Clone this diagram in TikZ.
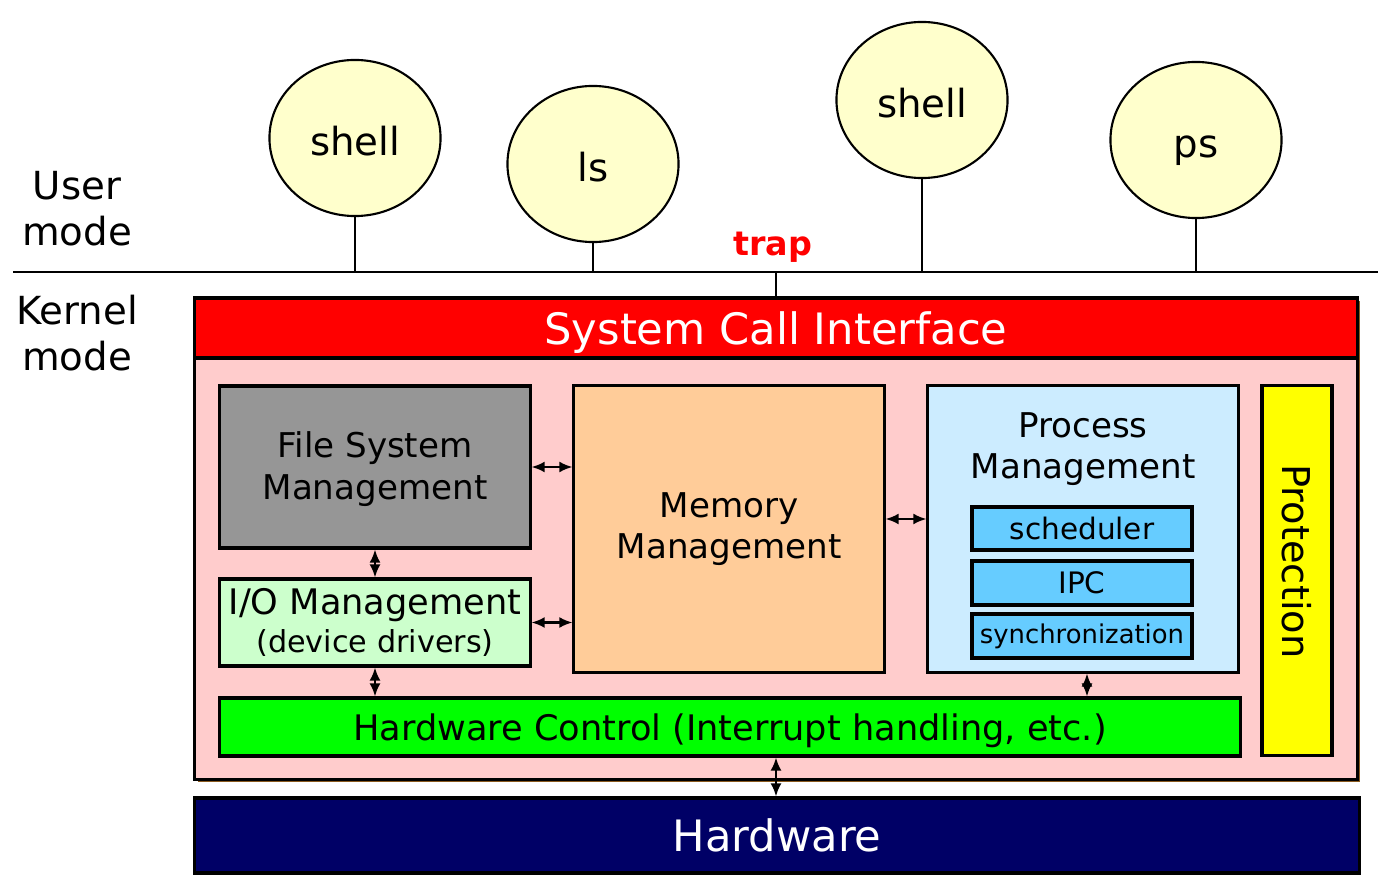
\documentclass[tikz,border=0pt]{standalone}
\usepackage{fontspec}
\setmainfont{DejaVu Sans}
\usepackage{tikz}
\usetikzlibrary{arrows.meta,shapes.geometric,shadows}
\definecolor{kpink}{HTML}{FFCCCC}
\definecolor{fsgray}{HTML}{969696}
\definecolor{iogreen}{HTML}{CCFFCC}
\definecolor{mempeach}{HTML}{FFCC99}
\definecolor{proclight}{HTML}{CCECFF}
\definecolor{subblue}{HTML}{66CCFF}
\definecolor{hwgreen}{HTML}{00FF00}
\definecolor{hwnavy}{HTML}{000066}
\definecolor{procyellow}{HTML}{FFFFCC}
\definecolor{protyellow}{HTML}{FFFF00}
\definecolor{kshadow}{HTML}{8A5A1E}

\begin{document}
\begin{tikzpicture}[x=0.01cm, y=-0.01cm,
    box/.style={draw=black, line width=0.9pt, rectangle, inner sep=0pt, text=black},
    proc/.style={draw=black, line width=0.6pt, ellipse, fill=procyellow, inner sep=0pt,
                 minimum width=1.71cm, minimum height=1.56cm, text height=1.05em, text depth=0.07em,
                 font=\fontsize{11}{13}\selectfont},
    link/.style={draw=black, line width=0.6pt, {Latex[length=1.3mm,width=1.1mm]}-{Latex[length=1.3mm,width=1.1mm]}},
    txt/.style={align=center, inner sep=0pt}]
            \useasboundingbox (0,0) rectangle (1378,888);
            \coordinate (lineL) at (13,272);
            \coordinate (lineR) at (1378,272);
            \draw[black, line width=0.6pt] (lineL) -- (lineR);
            \node[txt, font=\fontsize{11}{13}\selectfont] (user) at (77,209) {User\\mode};
            \node[txt, font=\fontsize{11}{13}\selectfont] (kernel) at (77,333) {Kernel\\mode};
            \node[proc] (shellA) at (355,138) {shell};
            \node[proc] (ls) at (593,164) {ls};
            \node[proc] (shellB) at (922,100) {shell};
            \node[proc] (ps) at (1196,140) {ps};
            \draw[black, line width=0.6pt] (shellA.south) -- (shellA.south |- lineL);
            \draw[black, line width=0.6pt] (ls.south) -- (ls.south |- lineL);
            \draw[black, line width=0.6pt] (shellB.south) -- (shellB.south |- lineL);
            \draw[black, line width=0.6pt] (ps.south) -- (ps.south |- lineL);
            \node[txt, text=red, font=\bfseries\fontsize{9.5}{12}\selectfont] (trap) at (773,247) {trap};
            \node[box, fill=kpink, minimum width=11.62cm, minimum height=4.81cm,
                  drop shadow={shadow xshift=0.03cm, shadow yshift=-0.03cm, fill=kshadow, opacity=1}] (core) at (776,538.5) {};
            \node[box, fill=red, text=white, minimum width=11.62cm, minimum height=0.60cm, text depth=0pt,
                  font=\fontsize{12.3}{15}\selectfont] (sci) at (776,328) {System Call Interface};
            \draw[black, line width=0.6pt] (sci.north |- lineL) -- (sci.north);
            \node[box, fill=hwnavy, text=white, minimum width=11.64cm, minimum height=0.75cm, text depth=0pt,
                  font=\fontsize{12.3}{15}\selectfont] (hw) at (777,835.5) {Hardware};
            \node[box, fill=fsgray, minimum width=3.10cm, minimum height=1.62cm] (fsm) at (375,467) {};
            \node[txt, font=\fontsize{9.7}{11.8}\selectfont] (fsmlabel) at (375,469) {File System\\Management};
            \node[box, fill=iogreen, minimum width=3.10cm, minimum height=0.87cm, align=center,
                  font=\fontsize{10}{11}\selectfont] (io) at (375,622.5) {I/O Management\\{\fontsize{8.6}{10}\selectfont(device drivers)}};
            \node[box, fill=mempeach, minimum width=3.10cm, minimum height=2.86cm, align=center,
                  font=\fontsize{9.7}{11.8}\selectfont] (mem) at (729,529) {Memory\\Management};
            \node[box, fill=proclight, minimum width=3.10cm, minimum height=2.86cm] (pm) at (1083,529) {};
            \node[txt, font=\fontsize{9.7}{11.8}\selectfont] (pmlabel) at (1083,449) {Process\\Management};
            \node[box, fill=subblue, minimum width=2.20cm, minimum height=0.43cm,
                  font=\fontsize{8.4}{10}\selectfont] (sched) at (1082,528.5) {scheduler};
            \node[box, fill=subblue, minimum width=2.20cm, minimum height=0.44cm,
                  font=\fontsize{8.4}{10}\selectfont] (ipc) at (1082,583) {IPC};
            \node[box, fill=subblue, minimum width=2.20cm, minimum height=0.44cm,
                  font=\fontsize{7.35}{10}\selectfont] (sync) at (1082,636) {synchronization};
            \node[box, fill=protyellow, minimum width=0.70cm, minimum height=3.69cm] (prot) at (1297,570.5) {};
            \node[txt, rotate=-90, font=\fontsize{10.9}{12}\selectfont] (protlabel) at ([yshift=0.09cm]prot.center) {Protection};
            \node[box, fill=hwgreen, minimum width=10.20cm, minimum height=0.58cm, text depth=0pt,
                  font=\fontsize{10}{12}\selectfont] (hwc) at (730,727) {Hardware Control (Interrupt handling, etc.)};
            \draw[link] (fsm.east) -- (mem.west |- fsm.east);
            \draw[link] (io.east) -- (mem.west |- io.east);
            \draw[link] (fsm.south) -- (io.north);
            \draw[link] ([yshift=0.1cm]mem.east) -- ([yshift=0.1cm]pm.west);
            \draw[link] (io.south) -- (io.south |- hwc.north);
            \draw[link] ([xshift=0.04cm]pm.south) -- ([xshift=0.04cm]pm.south |- hwc.north);
            \draw[link] (hwc.south -| sci.north) -- (hw.north -| sci.north);
        \end{tikzpicture}
\end{document}
